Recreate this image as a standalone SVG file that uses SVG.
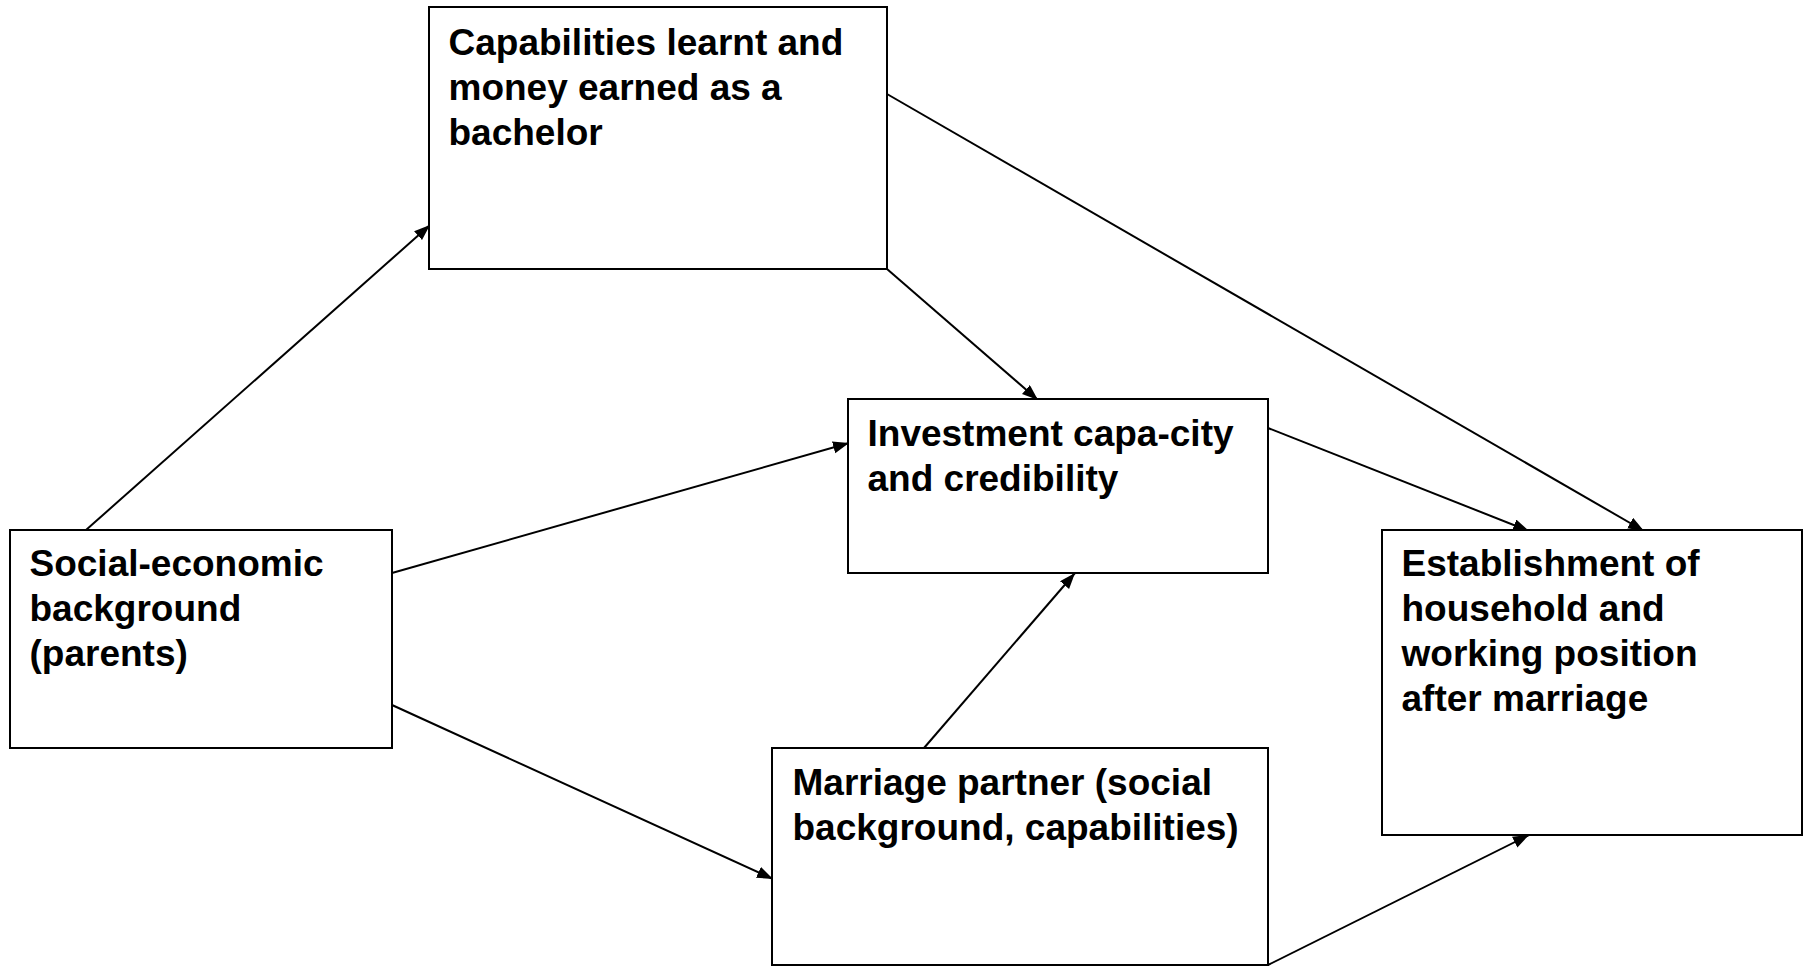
<svg xmlns="http://www.w3.org/2000/svg" width="1806" height="966" viewBox="0 0 1806 966">
  <style>
    .box { fill: #ffffff; stroke: #000000; stroke-width: 2; }
    .lbl { font-family: "Liberation Sans", Arial, sans-serif; font-weight: bold; font-size: 37px; fill: #000000; }
    .edge { stroke: #000000; stroke-width: 2; fill: none; marker-end: url(#arrow); }
  </style>
  <defs>
    <marker id="arrow" markerUnits="userSpaceOnUse" markerWidth="18" markerHeight="13" refX="16" refY="6" orient="auto">
      <path d="M0,0 L16,6 L0,12 z" fill="#000000"/>
    </marker>
  </defs>
  <rect width="1806" height="966" fill="#ffffff"/>

  <g id="connectors">
    <line class="edge" x1="86" y1="530" x2="430" y2="225"/>
    <line class="edge" x1="392" y1="573" x2="849" y2="443"/>
    <line class="edge" x1="392" y1="705" x2="773" y2="879"/>
    <line class="edge" x1="887" y1="269" x2="1038" y2="400"/>
    <line class="edge" x1="887" y1="94" x2="1644" y2="531"/>
    <line class="edge" x1="1268" y1="428" x2="1529" y2="531"/>
    <line class="edge" x1="924" y1="748" x2="1075" y2="573"/>
    <line class="edge" x1="1268" y1="965" x2="1529" y2="835"/>
  </g>

  <g id="capabilities">
    <rect class="box" x="429" y="7" width="458" height="262"/>
    <text class="lbl" x="448.5" y="54.5">Capabilities learnt and</text>
    <text class="lbl" x="448.5" y="99.5">money earned as a</text>
    <text class="lbl" x="448.5" y="144.5">bachelor</text>
  </g>

  <g id="investment">
    <rect class="box" x="848" y="399" width="420" height="174"/>
    <text class="lbl" x="867.5" y="446">Investment capa-city</text>
    <text class="lbl" x="867.5" y="491">and credibility</text>
  </g>

  <g id="social">
    <rect class="box" x="10" y="530" width="382" height="218"/>
    <text class="lbl" x="29.5" y="576">Social-economic</text>
    <text class="lbl" x="29.5" y="621">background</text>
    <text class="lbl" x="29.5" y="666">(parents)</text>
  </g>

  <g id="marriage">
    <rect class="box" x="772" y="748" width="496" height="217"/>
    <text class="lbl" x="792.5" y="795">Marriage partner (social</text>
    <text class="lbl" x="792.5" y="840">background, capabilities)</text>
  </g>

  <g id="establishment">
    <rect class="box" x="1382" y="530" width="420" height="305"/>
    <text class="lbl" x="1401.5" y="576">Establishment of</text>
    <text class="lbl" x="1401.5" y="621">household and</text>
    <text class="lbl" x="1401.5" y="666">working position</text>
    <text class="lbl" x="1401.5" y="711">after marriage</text>
  </g>
</svg>
